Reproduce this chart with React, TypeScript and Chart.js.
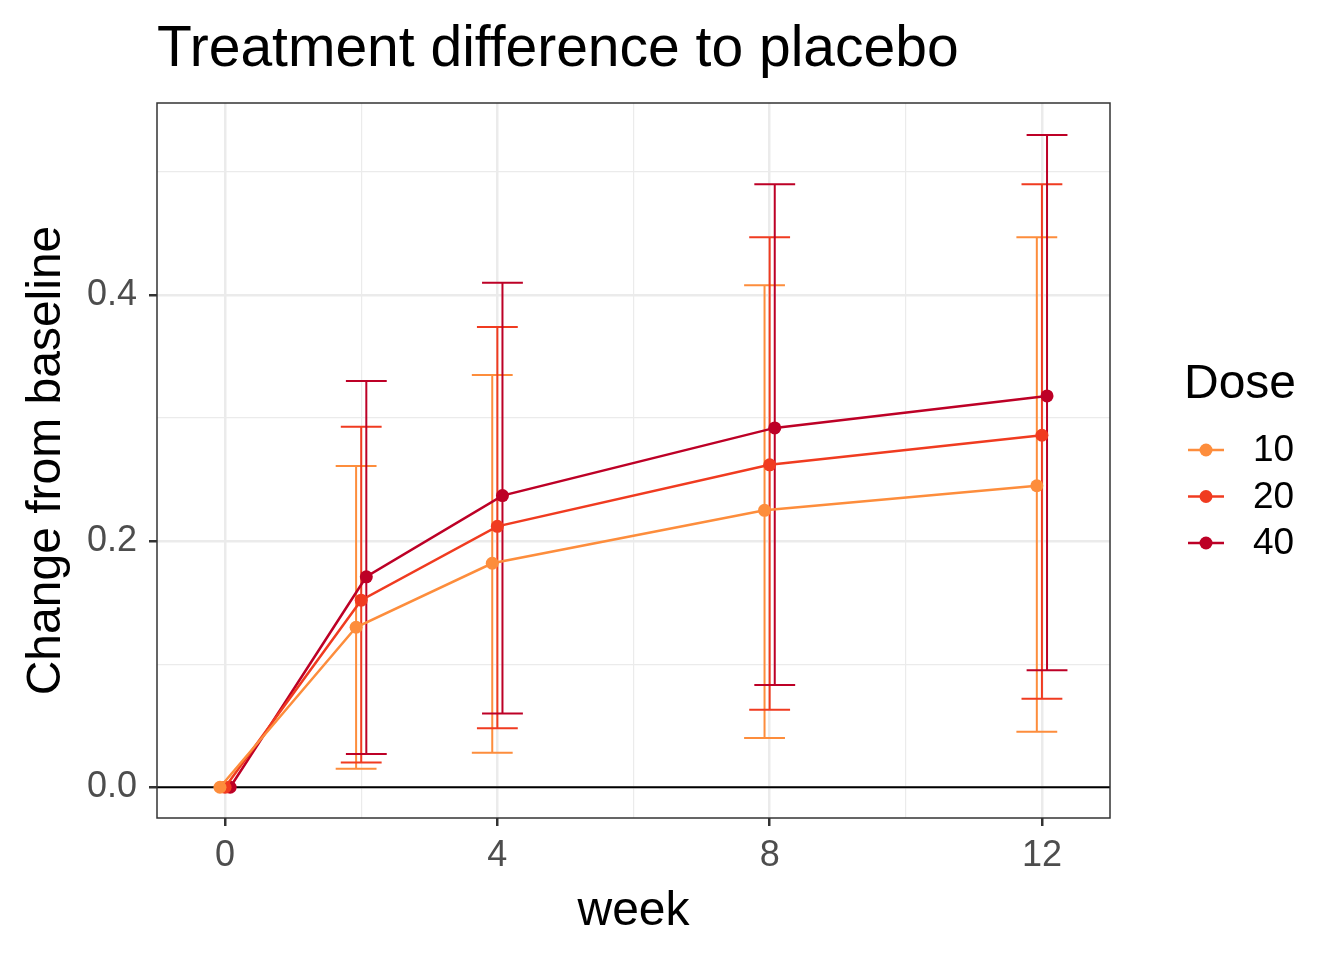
import React, { useEffect, useRef } from "react";
import { Chart, registerables } from "chart.js";
Chart.register(...registerables);

const weeks = [0, 2, 4, 8, 12];
const doses = ["10", "20", "40"];
const colors = ["#FD8D3C", "#F03B20", "#BD0026"];
const dodge = [-0.075, 0, 0.075];
const est10 = [0, 0.13, 0.182, 0.225, 0.245];
const lo10 = [0, 0.015, 0.028, 0.04, 0.045];
const hi10 = [0, 0.261, 0.335, 0.408, 0.447];
const est20 = [0, 0.152, 0.212, 0.262, 0.286];
const lo20 = [0, 0.02, 0.048, 0.063, 0.072];
const hi20 = [0, 0.293, 0.374, 0.447, 0.49];
const est40 = [0, 0.171, 0.237, 0.292, 0.318];
const lo40 = [0, 0.027, 0.06, 0.083, 0.095];
const hi40 = [0, 0.33, 0.41, 0.49, 0.53];
const ests = [est10, est20, est40];
const los = [lo10, lo20, lo40];
const his = [hi10, hi20, hi40];

const F = "Liberation Sans, Arial, sans-serif";

const overlay = {
  id: "overlay",
  beforeDatasetsDraw(chart: any) {
    const { ctx, chartArea: a, scales } = chart;
    const x = scales.x, y = scales.y;
    ctx.save();
    ctx.strokeStyle = "#000";
    ctx.lineWidth = 2;
    ctx.beginPath();
    ctx.moveTo(a.left, y.getPixelForValue(0));
    ctx.lineTo(a.right, y.getPixelForValue(0));
    ctx.stroke();
    doses.forEach((_, d) => {
      ctx.strokeStyle = colors[d];
      ctx.lineWidth = 2;
      weeks.forEach((w, i) => {
        if (w === 0) return;
        const cx = x.getPixelForValue(w + dodge[d]);
        const l = x.getPixelForValue(w + dodge[d] - 0.3);
        const r = x.getPixelForValue(w + dodge[d] + 0.3);
        const yl = y.getPixelForValue(los[d][i]);
        const yh = y.getPixelForValue(his[d][i]);
        ctx.beginPath();
        ctx.moveTo(cx, yl); ctx.lineTo(cx, yh);
        ctx.moveTo(l, yl); ctx.lineTo(r, yl);
        ctx.moveTo(l, yh); ctx.lineTo(r, yh);
        ctx.stroke();
      });
    });
    ctx.restore();
  },
  afterDraw(chart: any) {
    const { ctx, chartArea: a } = chart;
    ctx.save();
    ctx.strokeStyle = "#333333";
    ctx.lineWidth = 1.5;
    ctx.strokeRect(a.left, a.top, a.right - a.left, a.bottom - a.top);
    ctx.fillStyle = "#000";
    ctx.textBaseline = "alphabetic";
    ctx.font = `57px ${F}`;
    ctx.textAlign = "left";
    ctx.fillText("Treatment difference to placebo", 157, 66);
    ctx.font = `48px ${F}`;
    ctx.textAlign = "center";
    ctx.fillText("week", (a.left + a.right) / 2, 925);
    ctx.save();
    ctx.translate(60, (a.top + a.bottom) / 2);
    ctx.rotate(-Math.PI / 2);
    ctx.fillText("Change from baseline", 0, 0);
    ctx.restore();
    ctx.textAlign = "left";
    ctx.fillText("Dose", 1184, 398);
    ctx.font = `37px ${F}`;
    doses.forEach((d, i) => {
      const yy = 450 + i * 46.5;
      ctx.strokeStyle = colors[i];
      ctx.lineWidth = 2.5;
      ctx.beginPath();
      ctx.moveTo(1188, yy); ctx.lineTo(1224, yy); ctx.stroke();
      ctx.fillStyle = colors[i];
      ctx.beginPath(); ctx.arc(1206, yy, 6.5, 0, Math.PI * 2); ctx.fill();
      ctx.fillStyle = "#000";
      ctx.textBaseline = "middle";
      ctx.fillText(d, 1253, yy + 1);
    });
    ctx.restore();
  },
};

export default function App() {
  const ref = useRef<HTMLCanvasElement>(null);
  useEffect(() => {
    const chart = new Chart(ref.current!, {
      type: "line",
      data: {
        datasets: doses.map((d, k) => ({
          label: d,
          data: weeks.map((w, i) => ({ x: w + dodge[k], y: ests[k][i] })),
          borderColor: colors[k],
          backgroundColor: colors[k],
          borderWidth: 2.5,
          pointRadius: 6.5,
          pointBorderWidth: 0,
          tension: 0,
        })),
      },
      options: {
        animation: false,
        responsive: false,
        layout: { padding: { top: 103, right: 234, left: 0, bottom: 0 } },
        plugins: { legend: { display: false }, tooltip: { enabled: false } },
        scales: {
          x: {
            type: "linear",
            min: -1,
            max: 13,
            afterBuildTicks: (s: any) => { s.ticks = [0, 2, 4, 6, 8, 10, 12].map((v) => ({ value: v })); },
            afterFit: (s: any) => { s.height = 142; },
            border: { display: false },
            grid: {
              color: "#EBEBEB",
              lineWidth: (c: any) => (c.tick && c.tick.value % 4 === 0 ? 2.5 : 1.2),
              tickColor: (c: any) => (c.tick && c.tick.value % 4 === 0 ? "#333333" : "rgba(0,0,0,0)"),
              tickLength: 8,
            },
            ticks: {
              font: { size: 36, family: F },
              color: "#4D4D4D",
              padding: 8,
              maxRotation: 0,
              autoSkip: false,
              callback: (v: any) => (v % 4 === 0 ? String(v) : ""),
            },
          },
          y: {
            min: -0.025,
            max: 0.556,
            afterBuildTicks: (s: any) => { s.ticks = [0, 0.1, 0.2, 0.3, 0.4, 0.5].map((v) => ({ value: v })); },
            afterFit: (s: any) => { s.width = 157; },
            border: { display: false },
            grid: {
              color: "#EBEBEB",
              lineWidth: (c: any) => (c.tick && Math.round(c.tick.value * 10) % 2 === 0 ? 2.5 : 1.2),
              tickColor: (c: any) => (c.tick && Math.round(c.tick.value * 10) % 2 === 0 ? "#333333" : "rgba(0,0,0,0)"),
              tickLength: 8,
            },
            ticks: {
              font: { size: 36, family: F },
              color: "#4D4D4D",
              padding: 12,
              autoSkip: false,
              callback: (v: any) => (Math.round(v * 10) % 2 === 0 ? Number(v).toFixed(1) : ""),
            },
          },
        },
      },
      plugins: [overlay],
    });
    return () => chart.destroy();
  }, []);
  return (
    <div style={{ position: "fixed", left: 0, top: 0, width: 1344, height: 960, background: "#fff" }}>
      <canvas ref={ref} width={1344} height={960} style={{ width: 1344, height: 960 }} />
    </div>
  );
}
